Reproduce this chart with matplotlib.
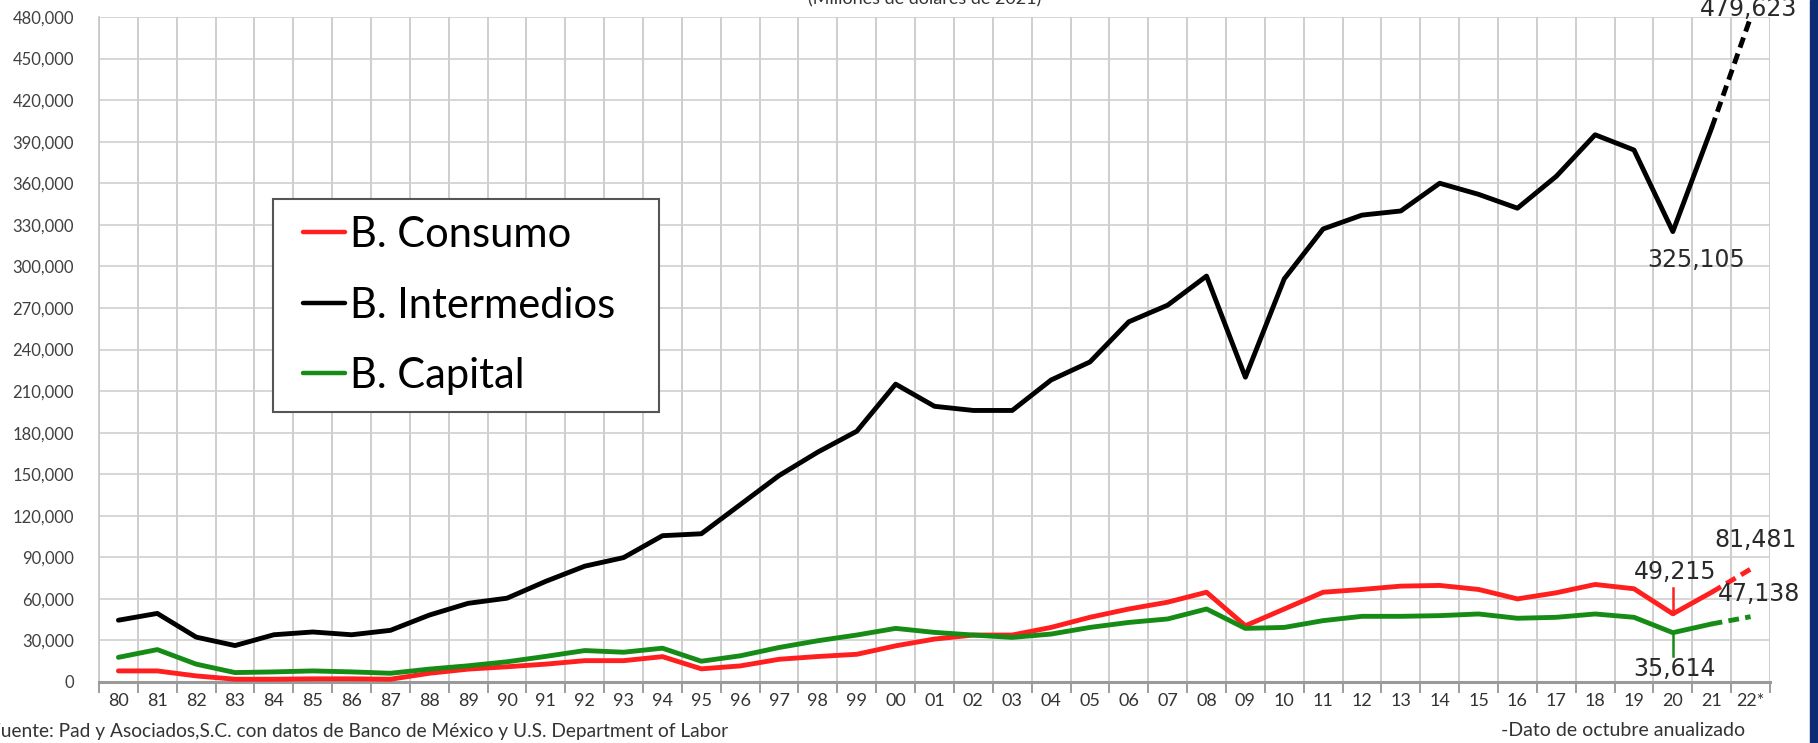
import matplotlib
matplotlib.use("Agg")
import matplotlib.pyplot as plt
from matplotlib.patches import Rectangle

# ---------------- data ----------------
years = ["80", "81", "82", "83", "84", "85", "86", "87", "88", "89",
         "90", "91", "92", "93", "94", "95", "96", "97", "98", "99",
         "00", "01", "02", "03", "04", "05", "06", "07", "08", "09",
         "10", "11", "12", "13", "14", "15", "16", "17", "18", "19",
         "20", "21", "22*"]

consumo = [8000, 8000, 4400, 2000, 2000, 2300, 2300, 2000, 6300, 9300,
           11000, 12900, 15400, 15400, 18300, 9500, 11600, 16400, 18400, 20000,
           26100, 31000, 33900, 33900, 39400, 46700, 52700, 57600, 64800, 40600,
           52700, 64800, 66800, 69200, 69700, 66800, 60000, 64400, 70400, 67300,
           49215, 64800, 81481]

intermedios = [44600, 49500, 32400, 26300, 34100, 36100, 34100, 37300, 48300, 56800,
               60500, 72700, 83600, 89800, 105600, 107000, 128000, 149000, 166000, 181000,
               215000, 199000, 196000, 196000, 218000, 231000, 260000, 272000, 293000, 220000,
               291000, 327000, 337000, 340000, 360000, 352000, 342000, 365000, 395000, 384000,
               325105, 400000, 479623]

capital = [17800, 23400, 12900, 6800, 7300, 8000, 7300, 6300, 9300, 11700,
           14600, 18500, 22700, 21500, 24400, 15000, 18900, 24900, 29800, 33900,
           38700, 35800, 33900, 32200, 34600, 39400, 43000, 45500, 52700, 38700,
           39400, 44300, 47400, 47400, 47900, 49100, 46000, 46700, 49100, 46700,
           35614, 41900, 47138]

series_names = ["B. Consumo", "B. Intermedios", "B. Capital"]
series_colors = ["#ff1f1f", "#000000", "#168c16"]
ytick_values = list(range(0, 480001, 30000))

# ---------------- figure ----------------
FONT = ["Lato", "DejaVu Sans"]
W, H = 1818, 743
fig = plt.figure(figsize=(W / 100, H / 100), dpi=100)
ax = fig.add_axes([99 / W, 61 / H, 1671 / W, 665 / H])

n = len(years)
xs = list(range(n))
split = n - 2  # last segment (21 -> 22*) dashed

handles = []
for vals, name, col in zip([consumo, intermedios, capital], series_names, series_colors):
    h, = ax.plot(xs[:split + 1], vals[:split + 1], color=col, lw=3.5,
                 solid_joinstyle="round", solid_capstyle="round", zorder=3, label=name)
    ax.plot(xs[split:], vals[split:], color=col, lw=3.5, ls=(0, (2.2, 1.3)), zorder=3)
    handles.append(h)

ax.set_xlim(-0.5, n - 0.5)
ax.set_ylim(0, 480000)

# ticks
ax.set_xticks(xs)
ax.set_xticklabels(years, fontsize=13, color="#333333", family=FONT)
ax.set_xticks([i - 0.5 for i in range(n + 1)], minor=True)
ax.tick_params(axis="x", which="major", length=0, pad=8)
ax.tick_params(axis="x", which="minor", length=8, width=1.2, color="#8c8c8c")
ax.set_yticks(ytick_values)
ax.set_yticklabels([f"{v:,}" for v in ytick_values], fontsize=12, color="#404040", family=FONT)
ax.tick_params(axis="y", length=0, pad=18)

ax.grid(axis="y", which="major", color="#cfcfcf", lw=1.2, zorder=0)
ax.grid(axis="x", which="minor", color="#c6c6c6", lw=1.2, zorder=0)
ax.set_axisbelow(True)

for s in ["top", "right"]:
    ax.spines[s].set_visible(False)
ax.spines["left"].set_color("#c6c6c6")
ax.spines["left"].set_linewidth(1.2)
ax.spines["bottom"].set_color("#9a9a9a")
ax.spines["bottom"].set_linewidth(2.2)

# ---------------- annotations ----------------
ann_kw = dict(fontsize=17, color="#2a2a2a", family=["DejaVu Sans"], ha="center",
              va="center", zorder=5, clip_on=False)
ax.text(41.95, 485800, f"{intermedios[-1]:,}", **ann_kw)
ax.text(40.6, 304600, f"{intermedios[-3]:,}", **ann_kw)
ax.text(42.12, 102500, f"{consumo[-1]:,}", **ann_kw)
ax.text(40.05, 79400, f"{consumo[-3]:,}", **ann_kw)
ax.text(42.22, 63500, f"{capital[-1]:,}", **ann_kw)
ax.text(40.05, 9400, f"{capital[-3]:,}", **ann_kw)
# leader lines
ax.plot([40, 40], [consumo[-3], 68000], color=series_colors[0], lw=1.8, zorder=4)
ax.plot([40, 40], [capital[-3], 19000], color=series_colors[2], lw=1.8, zorder=4)

# ---------------- legend ----------------
fig.patches.append(Rectangle((273 / W, 1 - 412 / H), (659 - 273) / W, (412 - 199) / H,
                             transform=fig.transFigure, facecolor="white",
                             edgecolor="#555555", lw=1.5, zorder=6))
leg = fig.legend(handles=handles, loc="upper left",
                 bbox_to_anchor=(303 / W, 1 - 216 / H), bbox_transform=fig.transFigure,
                 prop={"family": FONT, "size": 30}, frameon=False,
                 handlelength=1.0, handletextpad=0.12,
                 labelspacing=0.78, borderpad=0, borderaxespad=0)
leg.set_zorder(7)
for lh in leg.get_lines():
    lh.set_linewidth(3.2)

# ---------------- texts ----------------
fig.text(925 / W, 1 + 1 / H, "(Millones de dólares de 2021)", fontsize=13,
         color="#333333", family=FONT, ha="center", va="center")
fig.text(-10 / W, 1 - 731 / H,
         "Fuente: Pad y Asociados,S.C. con datos de Banco de México y U.S. Department of Labor",
         fontsize=13.8, color="#333333", family=FONT, ha="left", va="center")
fig.text(1745 / W, 1 - 731 / H, "-Dato de octubre anualizado", fontsize=14,
         color="#333333", family=FONT, ha="right", va="center")

# right navy strip
fig.patches.append(Rectangle((1810 / W, 0), 8 / W, 1, transform=fig.transFigure,
                             color="#0c2d74", zorder=10))

fig.savefig("out.png", dpi=100)
